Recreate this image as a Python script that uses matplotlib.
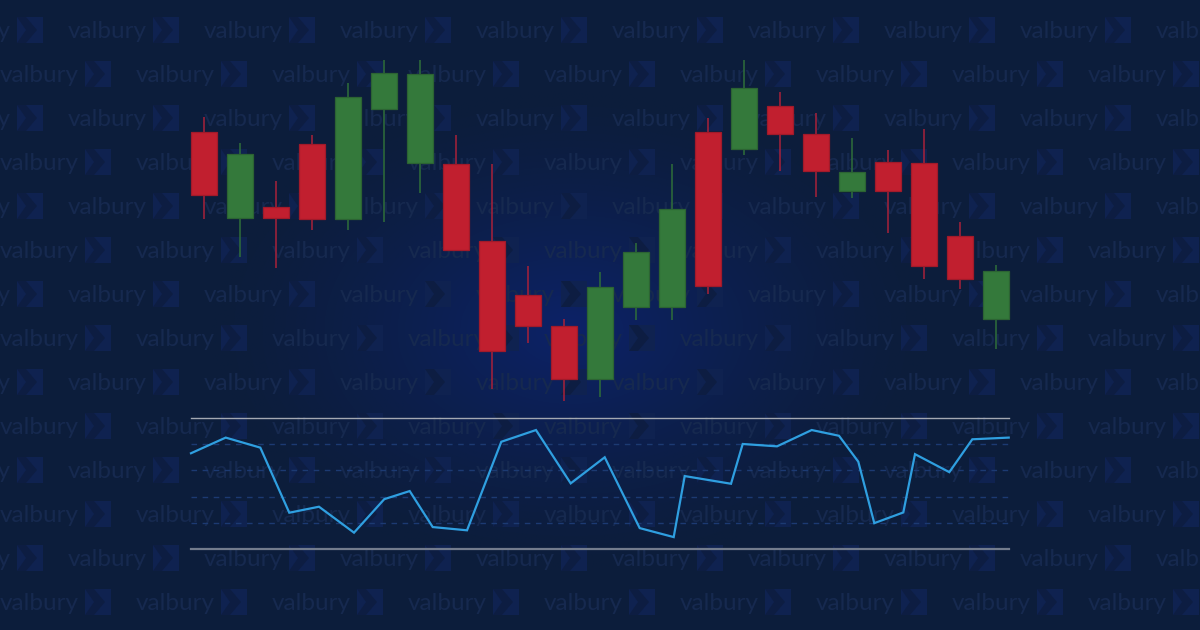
import numpy as np
import matplotlib
matplotlib.use("Agg")
import matplotlib.pyplot as plt
from matplotlib.patches import Rectangle, Polygon

# ---------------- data ----------------
opens  = [49.83, 41.20, 42.27, 48.57, 41.10, 52.07, 46.67, 46.63, 38.90, 33.47, 30.40, 25.10,
          32.33, 32.33, 49.80, 48.13, 52.43, 49.60, 43.90, 46.80, 46.70, 39.40, 31.13]
highs  = [51.33, 48.70, 44.90, 49.50, 54.67, 57.00, 57.00, 49.50, 46.57, 36.40, 31.10, 35.80,
          38.70, 46.57, 51.20, 57.00, 53.80, 51.73, 49.20, 48.00, 50.10, 40.83, 36.50]
lows   = [41.07, 37.30, 36.20, 40.00, 40.00, 40.83, 43.67, 37.90, 24.07, 28.73, 22.93, 23.33,
          31.00, 31.00, 33.57, 47.50, 45.90, 43.33, 43.17, 39.73, 35.13, 34.13, 28.13]
closes = [43.47, 47.60, 41.20, 41.10, 53.27, 55.67, 55.60, 37.97, 27.93, 30.40, 25.10, 34.30,
          37.77, 42.07, 34.40, 54.23, 49.57, 45.87, 45.80, 43.87, 36.43, 35.13, 35.90]

osc_x = [-0.361, 0.603, 1.564, 2.369, 3.194, 4.167, 5.008, 5.714, 6.353, 7.306, 8.258, 9.222,
         10.186, 11.131, 12.103, 13.047, 13.353, 14.639, 14.964, 15.917, 16.881, 17.639,
         18.175, 18.619, 19.425, 19.750, 20.703, 21.342, 22.353]
osc_y = [73.2, 85.2, 77.5, 27.6, 32.2, 12.3, 38.0, 44.2, 16.6, 14.1, 82.0, 91.0, 50.1, 70.1,
         15.8, 8.9, 55.7, 49.8, 80.3, 78.5, 91.0, 86.6, 66.7, 19.6, 27.8, 72.5, 58.7, 83.9, 85.2]
osc_levels = [20, 40, 60, 80]

W, H = 1200, 630
fig = plt.figure(figsize=(12, 6.3), dpi=100)

# ---------------- background ----------------
bg = fig.add_axes([0, 0, 1, 1])
bg.set_xlim(0, W); bg.set_ylim(H, 0); bg.axis("off")
yy, xx = np.mgrid[0:H, 0:W]
r = np.sqrt(((xx - 570) / 360.0) ** 2 + ((yy - 330) / 240.0) ** 2)
t = np.clip(1 - r, 0, 1) ** 1.4
base = np.array([12, 29, 59]) / 255.0
glow = np.array([12, 34, 104]) / 255.0
img = base[None, None, :] * (1 - t[..., None]) + glow[None, None, :] * t[..., None]
bg.imshow(img, extent=(0, W, H, 0), aspect="auto", zorder=0)

# watermark pattern
period = 136
for k in range(14):
    yc = 30 + 44 * k
    off = 68 if k % 2 == 0 else 0
    for j in range(-1, 10):
        x0 = off + period * j
        bg.text(x0, yc + 1, "valbury", color="#16294f", fontsize=17.5, ha="left", va="center",
                zorder=1, family=["Lato", "DejaVu Sans"], clip_on=True)
        lx = x0 + 85
        bg.add_patch(Rectangle((lx, yc - 13), 26, 26, facecolor="#0f2250", edgecolor="none", zorder=1))
        bg.add_patch(Polygon([(lx, yc - 13), (lx + 9, yc - 13), (lx + 20, yc),
                              (lx + 9, yc + 13), (lx, yc + 13), (lx + 9, yc)],
                             closed=True, facecolor="#0d1d42", edgecolor="none", zorder=1))

# ---------------- candles ----------------
ax = fig.add_axes([0, 0, 1, 1])
ax.patch.set_alpha(0)
ax.set_xlim((0 - 204) / 36.0, (W - 204) / 36.0)
ax.set_ylim(0, 63)
ax.axis("off")

x = np.arange(len(opens))
o = np.array(opens); c = np.array(closes); h = np.array(highs); l = np.array(lows)
up = c >= o
body_col = np.where(up, "#34793b", "#c11f2f")
edge_col = np.where(up, "#2c6333", "#a11a2a")
wick_col = np.where(up, "#2f6e3a", "#a8213a")
ax.vlines(x, l, h, colors=wick_col, linewidth=1.1, zorder=2)
ax.bar(x, np.abs(c - o), bottom=np.minimum(o, c), width=0.72, color=body_col,
       edgecolor=edge_col, linewidth=0.9, zorder=3)

# ---------------- oscillator ----------------
ox = fig.add_axes([191 / W, (H - 548.7) / H, 818 / W, 130.4 / H])
ox.patch.set_alpha(0)
ox.set_xlim(-0.361, 22.361)
ox.set_ylim(0, 100)
ox.axis("off")
for lv in osc_levels:
    ox.axhline(lv, color="#1c3a72", linewidth=1.0, linestyle=(0, (4, 4)), zorder=1)
ox.axhline(100, color="#a3a8b2", linewidth=1.0, zorder=2, clip_on=False)
ox.axhline(0, color="#737c8d", linewidth=1.6, zorder=2, clip_on=False)
ox.plot(osc_x, osc_y, color="#2f9fe0", linewidth=1.6, zorder=3, clip_on=False,
        solid_joinstyle="miter")

fig.savefig("out.png", dpi=100)
